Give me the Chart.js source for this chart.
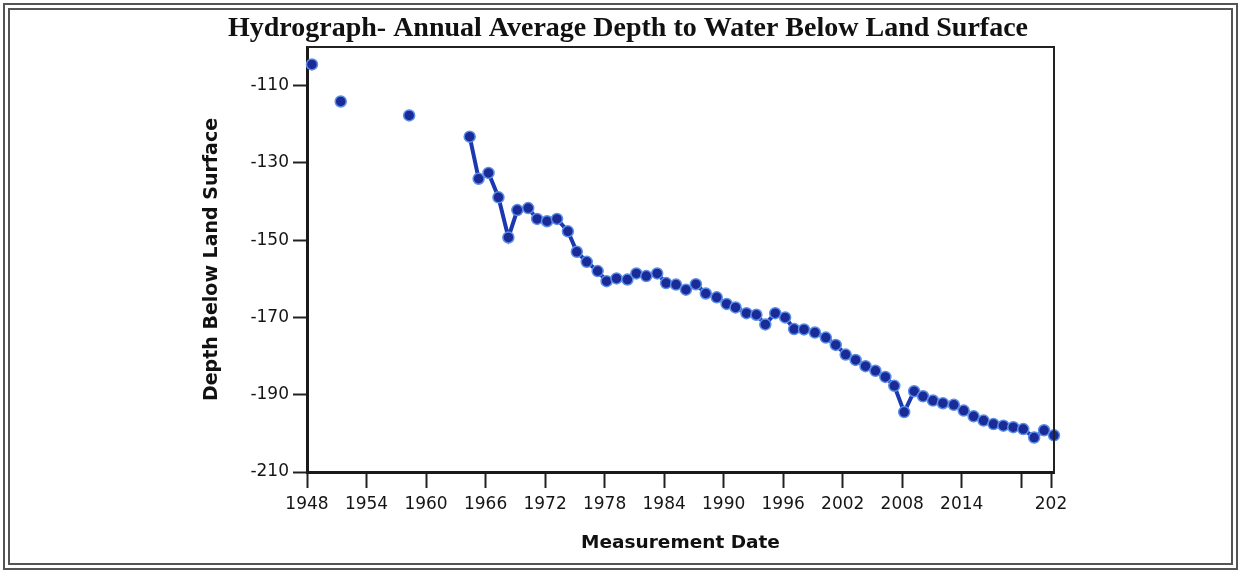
<!DOCTYPE html>
<html>
<head>
<meta charset="utf-8">
<script src="https://cdn.jsdelivr.net/npm/chart.js@4.4.1/dist/chart.umd.min.js"></script>
<style>
  html, body { margin: 0; padding: 0; background: #fff; }
  #wrap { position: relative; width: 1241px; height: 573px; }
  #frame { position: absolute; left: 3px; top: 3px; width: 1221px; height: 553px; border: 7px double #555; pointer-events: none; }
</style>
</head>
<body>
<div id="wrap">
  <canvas id="chartHydro" width="1241" height="573"></canvas>
  <div id="frame"></div>
</div>
<script>
// Lecturas anuales (fecha decimal, profundidad en ft)
const measureDates = [
  1948.5, 1951.4, 1958.3,
  1964.4, 1965.3, 1966.3, 1967.3, 1968.3, 1969.2, 1970.3, 1971.2, 1972.2, 1973.2,
  1974.3, 1975.2, 1976.2, 1977.3, 1978.2, 1979.2, 1980.3, 1981.2, 1982.2, 1983.3,
  1984.2, 1985.2, 1986.2, 1987.2, 1988.2, 1989.3, 1990.3, 1991.2, 1992.3, 1993.3,
  1994.2, 1995.2, 1996.2, 1997.1, 1998.1, 1999.2, 2000.3, 2001.3, 2002.3, 2003.3,
  2004.3, 2005.3, 2006.3, 2007.2, 2008.2, 2009.2, 2010.1, 2011.1, 2012.1, 2013.2,
  2014.2, 2015.2, 2016.2, 2017.2, 2018.2, 2019.2, 2020.2, 2021.3, 2022.3, 2023.3
];
const depthValues = [
  -104.5, -114.1, -117.7,
  -123.2, -134.1, -132.6, -138.9, -149.3, -142.2, -141.7, -144.5, -145.1, -144.5,
  -147.7, -153.0, -155.6, -158.0, -160.6, -159.9, -160.2, -158.6, -159.3, -158.6,
  -161.1, -161.5, -162.8, -161.4, -163.8, -164.8, -166.5, -167.4, -168.9, -169.3,
  -171.8, -168.9, -170.0, -173.0, -173.1, -173.9, -175.2, -177.1, -179.6, -181.0,
  -182.6, -183.8, -185.4, -187.7, -194.5, -189.1, -190.4, -191.5, -192.2, -192.6,
  -194.1, -195.6, -196.7, -197.6, -198.0, -198.4, -198.9, -201.1, -199.2, -200.5
];

const xTickValues = [1948, 1954, 1960, 1966, 1972, 1978, 1984, 1990, 1996, 2002, 2008, 2014, 2020, 2023];
const xTickLabels = ['1948', '1954', '1960', '1966', '1972', '1978', '1984', '1990', '1996', '2002', '2008', '2014', '', '202'];
const yTickValues = [-210, -190, -170, -150, -130, -110];

const chartTitle = 'Hydrograph- Annual Average Depth to Water Below Land Surface';

// titulo + marco do grafico
const framePlugin = {
    id: 'framePlugin',
    afterDraw(chart) {
        const { ctx, chartArea } = chart;
        ctx.save();
        ctx.strokeStyle = '#222';
        ctx.lineWidth = 2;
        ctx.beginPath();
        ctx.moveTo(chartArea.left, chartArea.top);
        ctx.lineTo(chartArea.right, chartArea.top);
        ctx.lineTo(chartArea.right, chartArea.bottom);
        ctx.stroke();

        ctx.fillStyle = '#111';
        ctx.font = 'bold 28px "Liberation Serif", "Times New Roman", serif';
        ctx.textAlign = 'center';
        ctx.textBaseline = 'middle';
        ctx.fillText(chartTitle, 628, 29);
        ctx.restore();
    }
};

const ctxHydro = document.getElementById('chartHydro');
new Chart(ctxHydro, {
    type: 'line',
    data: {
        datasets: [{
            label: 'Depth',
            data: measureDates.map((d, i) => ({ x: d, y: depthValues[i] })),
            borderColor: '#1c38b0',
            borderWidth: 4,
            pointRadius: 5.5,
            pointBackgroundColor: '#1a2a96',
            pointBorderColor: '#5a8ee8',
            pointBorderWidth: 1.5,
            tension: 0,
            clip: false,
            // anos sem leitura: sem linha
            segment: {
                borderColor: c => (c.p1.parsed.x - c.p0.parsed.x > 2 ? 'transparent' : undefined)
            }
        }]
    },
    options: {
        responsive: false,
        animation: false,
        layout: { padding: { top: 47, left: 193, right: 187, bottom: 0 } },
        plugins: { legend: { display: false }, tooltip: { enabled: false } },
        scales: {
            x: {
                type: 'linear',
                min: 1948,
                max: 2023.3,
                afterBuildTicks: scale => { scale.ticks = xTickValues.map(v => ({ value: v })); },
                afterFit: scale => { scale.height = 101; },
                ticks: {
                    autoSkip: false,
                    maxRotation: 0,
                    padding: 6,
                    color: '#151515',
                    font: { family: '"DejaVu Sans", sans-serif', size: 17 },
                    callback: (v, i) => xTickLabels[i]
                },
                grid: { drawOnChartArea: false, drawTicks: true, tickLength: 16, tickWidth: 2, color: '#222' },
                border: { display: true, width: 3, color: '#1a1a1a' },
                title: {
                    display: true,
                    text: 'Measurement Date',
                    color: '#111',
                    padding: { top: 0, bottom: 19 },
                    font: { family: '"DejaVu Sans", sans-serif', size: 18.5, weight: 'bold' }
                }
            },
            y: {
                min: -210,
                max: -100,
                afterBuildTicks: scale => { scale.ticks = yTickValues.map(v => ({ value: v })); },
                afterFit: scale => { scale.width = 114; },
                ticks: {
                    padding: 4,
                    color: '#151515',
                    font: { family: '"DejaVu Sans", sans-serif', size: 17 },
                    callback: v => String(v)
                },
                grid: { drawOnChartArea: false, drawTicks: true, tickLength: 14, tickWidth: 2, color: '#222' },
                border: { display: true, width: 3, color: '#1a1a1a' },
                title: {
                    display: true,
                    text: 'Depth Below Land Surface',
                    color: '#111',
                    padding: { top: 8, bottom: 0 },
                    font: { family: '"DejaVu Sans", sans-serif', size: 19, weight: 'bold' }
                }
            }
        }
    },
    plugins: [framePlugin]
});
</script>
</body>
</html>
